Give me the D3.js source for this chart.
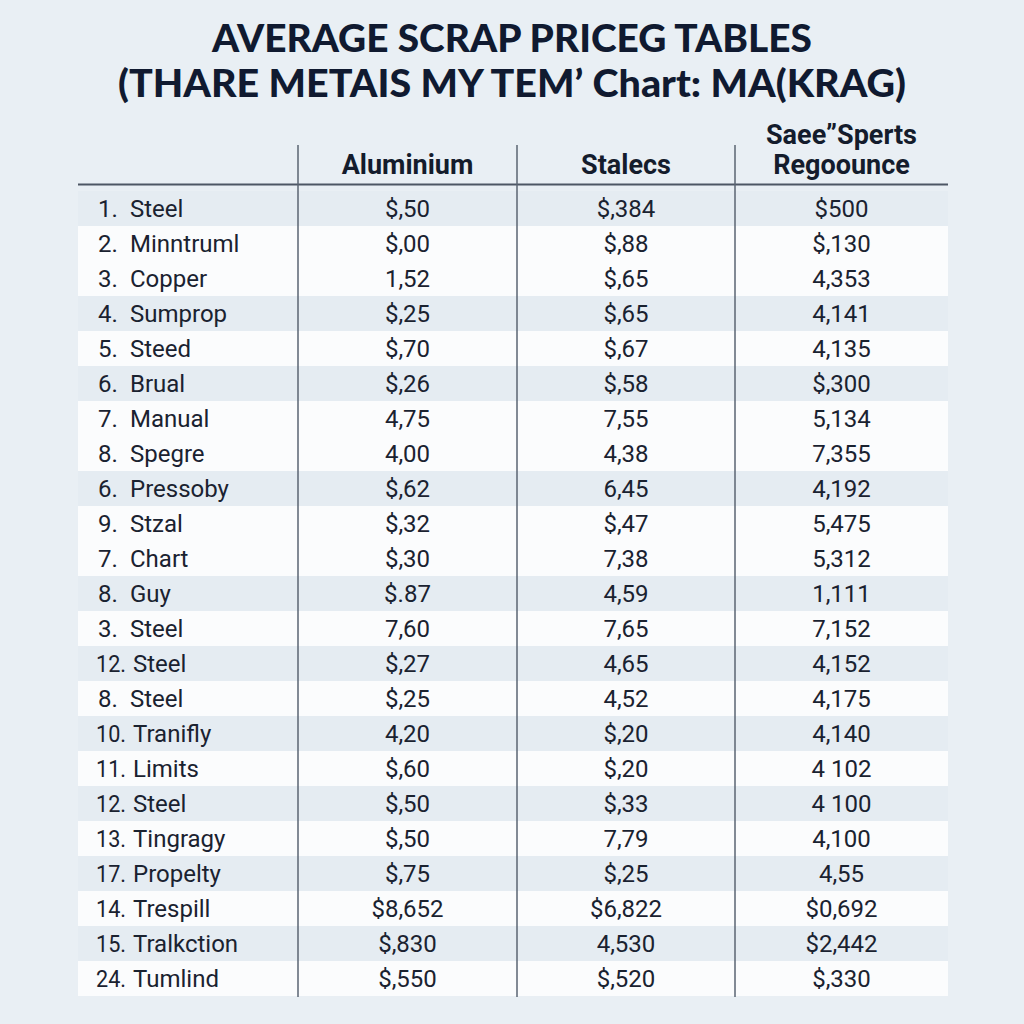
<!DOCTYPE html>
<html>
<head>
<meta charset="utf-8">
<script src="https://cdn.jsdelivr.net/npm/d3@7"></script>
<style>
  html, body { margin: 0; padding: 0; background: #e9eff4; }
  svg { display: block; }
</style>
</head>
<body>
<svg id="chart" width="1024" height="1024"></svg>
<script>
// ---- data ----
const titleLines = ["AVERAGE SCRAP PRICEG TABLES", "(THARE METAIS MY TEM\u2019 Chart: MA(KRAG)"];
const columnHeaders = [["Aluminium"], ["Stalecs"], ["Saee\u201DSperts", "Regoounce"]];
const rowNumbers = ["1.", "2.", "3.", "4.", "5.", "6.", "7.", "8.", "6.", "9.", "7.", "8.", "3.", "12.", "8.", "10.", "11.", "12.", "13.", "17.", "14.", "15.", "24."];
const categories = ["Steel", "Minntruml", "Copper", "Sumprop", "Steed", "Brual", "Manual", "Spegre", "Pressoby", "Stzal", "Chart", "Guy", "Steel", "Steel", "Steel", "Tranifly", "Limits", "Steel", "Tingragy", "Propelty", "Trespill", "Tralkction", "Tumlind"];
const aluminium = ["$,50", "$,00", "1,52", "$,25", "$,70", "$,26", "4,75", "4,00", "$,62", "$,32", "$,30", "$.87", "7,60", "$,27", "$,25", "4,20", "$,60", "$,50", "$,50", "$,75", "$8,652", "$,830", "$,550"];
const stalecs = ["$,384", "$,88", "$,65", "$,65", "$,67", "$,58", "7,55", "4,38", "6,45", "$,47", "7,38", "4,59", "7,65", "4,65", "4,52", "$,20", "$,20", "$,33", "7,79", "$,25", "$6,822", "4,530", "$,520"];
const regoounce = ["$500", "$,130", "4,353", "4,141", "4,135", "$,300", "5,134", "7,355", "4,192", "5,475", "5,312", "1,111", "7,152", "4,152", "4,175", "4,140", "4 102", "4 100", "4,100", "4,55", "$0,692", "$2,442", "$,330"];

// ---- layout / style ----
const W = 1024, H = 1024;
const svg = d3.select("#chart");
const shadedRows = new Set([0, 3, 5, 8, 11, 13, 15, 17, 19, 21]);

const rows = d3.scaleBand().domain(d3.range(categories.length)).range([191, 996]).padding(0);
const colEdge = d3.scaleLinear().domain([0, 1, 2, 3, 4]).range([78, 298, 517, 735, 948]);
const colCenter = i => (colEdge(i) + colEdge(i + 1)) / 2;

// background
svg.append("rect").attr("width", W).attr("height", H).attr("fill", "#e9eff4");

// title
svg.selectAll("text.title").data(titleLines).join("text")
  .attr("class", "title")
  .attr("x", 512)
  .attr("y", (d, i) => 52 + i * 45)
  .attr("text-anchor", "middle")
  .attr("font-family", "Lato, 'DejaVu Sans', sans-serif")
  .attr("font-weight", 900)
  .attr("font-size", 37)
  .attr("fill", "#101a30")
  .attr("textLength", (d, i) => i === 0 ? 600 : 788)
  .attr("lengthAdjust", "spacingAndGlyphs")
  .text(d => d);

// row bands
svg.append("g").selectAll("rect").data(categories).join("rect")
  .attr("x", colEdge(0))
  .attr("y", (d, i) => rows(i))
  .attr("width", colEdge(4) - colEdge(0))
  .attr("height", rows.bandwidth())
  .attr("fill", (d, i) => shadedRows.has(i) ? "#e5ecf2" : "#fbfcfd");

// header
const hdr = svg.append("g");
columnHeaders.forEach((lines, ci) => {
  lines.forEach((t, li) => {
    hdr.append("text")
      .attr("x", colCenter(ci + 1))
      .attr("y", 174 - (lines.length - 1 - li) * 30)
      .attr("text-anchor", "middle")
      .attr("font-family", "Roboto, 'Liberation Sans', sans-serif")
      .attr("font-weight", 700)
      .attr("font-size", 27)
      .attr("fill", "#141c2c")
      .text(t);
  });
});

// header rule
svg.append("line")
  .attr("x1", colEdge(0)).attr("x2", colEdge(4))
  .attr("y1", 184.5).attr("y2", 184.5)
  .attr("stroke", "#4d5664").attr("stroke-width", 2);

// vertical dividers
svg.append("g").selectAll("line").data([1, 2, 3]).join("line")
  .attr("x1", d => colEdge(d)).attr("x2", d => colEdge(d))
  .attr("y1", 145).attr("y2", 997)
  .attr("stroke", "#5a6472").attr("stroke-width", 1.5);

// body text
const bodyFont = "Roboto, 'Liberation Sans', sans-serif";
const bodySize = 24;
const textColor = "#1a2230";
const baseY = i => rows(i) + rows.bandwidth() / 2 + 8.5;
const body = svg.append("g");

body.selectAll("text.num").data(rowNumbers).join("text")
  .attr("class", "num")
  .attr("x", d => d.length > 2 ? 96 : 98)
  .attr("y", (d, i) => baseY(i))
  .attr("font-family", bodyFont).attr("font-size", bodySize).attr("fill", textColor)
  .attr("textLength", d => d.length > 2 ? 30 : null)
  .attr("lengthAdjust", "spacingAndGlyphs")
  .text(d => d);

body.selectAll("text.cat").data(categories).join("text")
  .attr("class", "cat")
  .attr("x", (d, i) => rowNumbers[i].length > 2 ? 133 : 130)
  .attr("y", (d, i) => baseY(i))
  .attr("font-family", bodyFont).attr("font-size", bodySize).attr("fill", textColor)
  .text(d => d);

[aluminium, stalecs, regoounce].forEach((series, ci) => {
  body.append("g").selectAll("text").data(series).join("text")
    .attr("x", colCenter(ci + 1))
    .attr("y", (d, i) => baseY(i))
    .attr("text-anchor", "middle")
    .attr("font-family", bodyFont).attr("font-size", bodySize).attr("fill", textColor)
    .text(d => d);
});
</script>
</body>
</html>
